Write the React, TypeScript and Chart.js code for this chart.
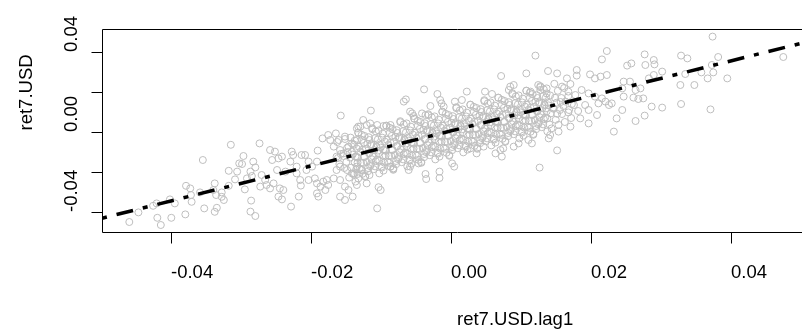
import React, { useEffect, useRef } from "react";
import { Chart, registerables } from "chart.js";

Chart.register(...registerables);

// ---- data ----
const usdLag1: number[] = [
  // left tail
  -0.0459,-0.0446,-0.0425,-0.0420,-0.0419,-0.0414,-0.0401,-0.0399,-0.0394,-0.0379,
  -0.0378,-0.0372,-0.0371,-0.0370,-0.0358,-0.0354,-0.0352,-0.0339,-0.0337,-0.0337,
  -0.0335,-0.0334,-0.0327,-0.0327,-0.0324,-0.0317,-0.0317,-0.0314,-0.0308,-0.0302,
  // lower-left body
  -0.0305,-0.0298,-0.0296,-0.0294,-0.0291,-0.0286,-0.0286,-0.0285,-0.0284,-0.0282,
  -0.0279,-0.0279,-0.0273,-0.0272,-0.0270,-0.0265,-0.0263,-0.0258,-0.0258,-0.0255,
  -0.0253,-0.0251,-0.0248,-0.0246,-0.0246,-0.0244,-0.0241,-0.0241,-0.0239,-0.0236,
  -0.0229,-0.0228,-0.0227,-0.0225,-0.0220,-0.0220,-0.0217,-0.0215,-0.0214,-0.0213,
  -0.0208,-0.0206,-0.0203,-0.0203,-0.0198,-0.0194,-0.0191,-0.0191,-0.0191,-0.0190,
  -0.0189,-0.0186,-0.0183,-0.0182,-0.0179,-0.0177,-0.0175,-0.0175,-0.0172,-0.0167,
  -0.0167,-0.0164,-0.0163,-0.0160,-0.0158,-0.0158,-0.0158,-0.0157,-0.0153,-0.0151,
  -0.0151,-0.0151,-0.0148,-0.0146,-0.0146,-0.0141,-0.0141,-0.0140,-0.0134,-0.0134,
  -0.0132,
  // upper outliers left of zero
  -0.0125,-0.0120,-0.0129,-0.0134,-0.0115,-0.0114,-0.0105,-0.0096,-0.0086,-0.0067,
  -0.0064,-0.0055,-0.0058,-0.0053,-0.0041,-0.0036,-0.0038,-0.0029,-0.0019,-0.0015,
  -0.0013,-0.0010,
  // lower outliers left of zero
  -0.0136,-0.0134,-0.0132,-0.0133,-0.0127,-0.0120,-0.0116,-0.0105,-0.0100,-0.0103,
  -0.0086,-0.0082,-0.0058,-0.0060,-0.0046,-0.0036,-0.0035,-0.0016,-0.0016,
  // outliers right of zero
  0.0121,0.0072,0.0108,0.0139,0.0152,0.0023,0.0049,0.0059,0.0085,0.0090,
  0.0083,0.0114,0.0125,0.0128,0.0137,0.0006,0.0016,
  0.0127,0.0005,0.0002,0.0073,0.0064,0.0071,0.0075,0.0116,0.0111,
  0.0152,0.0140,0.0142,0.0037,0.0028,0.0047,0.0090,0.0097,
  // upper-right body
  0.0223,0.0216,0.0277,0.0290,0.0329,0.0180,0.0180,0.0166,0.0199,0.0206,
  0.0214,0.0223,0.0252,0.0258,0.0278,0.0291,0.0302,0.0290,0.0283,0.0247,
  0.0256,0.0245,0.0264,0.0271,0.0275,0.0268,0.0261,0.0247,0.0287,0.0302,
  0.0245,0.0237,0.0264,0.0277,0.0233,0.0329,0.0226,0.0230,0.0221,0.0209,
  0.0197,0.0171,0.0154,0.0185,0.0159,0.0168,0.0178,0.0187,0.0197,0.0206,
  0.0216,0.0164,0.0176,0.0192,0.0211,0.0156,0.0168,0.0182,0.0197,
  // right tail
  0.0374,0.0338,0.0382,0.0475,0.0373,0.0375,0.0367,0.0395,0.0358,0.0335,
  0.0328,0.0348,0.0371,
  // dense core
  -0.0162,-0.0158,-0.0161,-0.0159,-0.0163,-0.0157,
  -0.0151,-0.0148,-0.0153,-0.0149,-0.0152,-0.0147,
  -0.0143,-0.0138,-0.0141,-0.0144,-0.0137,-0.0142,-0.0139,-0.0140,-0.0145,
  -0.0132,-0.0127,-0.0131,-0.0129,-0.0133,-0.0128,-0.0130,-0.0126,-0.0134,
  -0.0123,-0.0119,-0.0121,-0.0117,-0.0124,-0.0120,-0.0118,-0.0122,-0.0116,
  -0.0112,-0.0108,-0.0113,-0.0109,-0.0111,-0.0107,-0.0114,-0.0110,-0.0106,
  -0.0103,-0.0098,-0.0101,-0.0104,-0.0097,-0.0102,-0.0099,-0.0100,-0.0096,
  -0.0092,-0.0087,-0.0091,-0.0089,-0.0093,-0.0088,-0.0090,-0.0086,-0.0094,
  -0.0083,-0.0079,-0.0081,-0.0077,-0.0084,-0.0080,-0.0078,-0.0082,-0.0076,
  -0.0072,-0.0068,-0.0073,-0.0069,-0.0071,-0.0067,-0.0074,-0.0070,-0.0066,
  -0.0063,-0.0058,-0.0061,-0.0064,-0.0057,-0.0062,-0.0059,-0.0060,-0.0056,
  -0.0052,-0.0047,-0.0051,-0.0049,-0.0053,-0.0048,-0.0050,-0.0046,-0.0054,
  -0.0043,-0.0039,-0.0041,-0.0037,-0.0044,-0.0040,-0.0038,-0.0042,-0.0036,
  -0.0032,-0.0028,-0.0033,-0.0029,-0.0031,-0.0027,-0.0034,-0.0030,-0.0026,
  -0.0023,-0.0018,-0.0021,-0.0024,-0.0017,-0.0022,-0.0019,-0.0020,-0.0016,
  -0.0012,-0.0007,-0.0011,-0.0009,-0.0013,-0.0008,-0.0010,-0.0006,-0.0014,
  -0.0003,0.0001,-0.0001,0.0003,-0.0004,0.0000,0.0002,-0.0002,0.0004,
  0.0008,0.0012,0.0007,0.0011,0.0009,0.0013,0.0006,0.0010,0.0014,
  0.0017,0.0022,0.0019,0.0016,0.0023,0.0018,0.0021,0.0020,0.0024,
  0.0028,0.0033,0.0029,0.0031,0.0027,0.0032,0.0030,0.0034,0.0026,
  0.0037,0.0041,0.0039,0.0043,0.0036,0.0040,0.0042,0.0038,0.0044,
  0.0048,0.0052,0.0047,0.0051,0.0049,0.0053,0.0046,0.0050,0.0054,
  0.0057,0.0062,0.0059,0.0056,0.0063,0.0058,0.0061,0.0060,0.0064,
  0.0068,0.0073,0.0069,0.0071,0.0067,0.0072,0.0070,0.0074,0.0066,
  0.0077,0.0081,0.0079,0.0083,0.0076,0.0080,0.0082,0.0078,0.0084,
  0.0088,0.0092,0.0087,0.0091,0.0089,0.0093,0.0086,0.0090,0.0094,
  0.0097,0.0102,0.0099,0.0096,0.0103,0.0098,0.0101,0.0100,0.0104,
  0.0108,0.0113,0.0109,0.0111,0.0107,0.0112,0.0110,0.0114,0.0106,
  0.0117,0.0121,0.0119,0.0123,0.0116,0.0120,0.0122,0.0118,0.0124,
  0.0128,0.0132,0.0127,0.0131,0.0129,0.0133,0.0126,0.0130,0.0134,
  0.0137,0.0142,0.0139,0.0136,0.0143,0.0138,0.0141,0.0140,0.0144,
  0.0148,0.0153,0.0149,0.0151,0.0147,0.0152,0.0150,0.0154,0.0146,
  0.0162,0.0158,0.0161,0.0159,0.0163,0.0157,
  0.0171,0.0168,0.0173,0.0169,0.0172,
  // dense core, second layer
  -0.0137,-0.0134,-0.0136,-0.0133,-0.0135,-0.0138,-0.0132,
  -0.0127,-0.0124,-0.0126,-0.0123,-0.0125,-0.0128,-0.0122,
  -0.0117,-0.0114,-0.0116,-0.0113,-0.0115,-0.0118,-0.0112,
  -0.0107,-0.0104,-0.0106,-0.0103,-0.0105,-0.0108,-0.0102,
  -0.0097,-0.0094,-0.0096,-0.0093,-0.0095,-0.0098,-0.0092,
  -0.0087,-0.0084,-0.0086,-0.0083,-0.0085,-0.0088,-0.0082,
  -0.0077,-0.0074,-0.0076,-0.0073,-0.0075,-0.0078,-0.0072,
  -0.0067,-0.0064,-0.0066,-0.0063,-0.0065,-0.0068,-0.0062,
  -0.0057,-0.0054,-0.0056,-0.0053,-0.0055,-0.0058,-0.0052,
  -0.0047,-0.0044,-0.0046,-0.0043,-0.0045,-0.0048,-0.0042,
  -0.0037,-0.0034,-0.0036,-0.0033,-0.0035,-0.0038,-0.0032,
  -0.0027,-0.0024,-0.0026,-0.0023,-0.0025,-0.0028,-0.0022,
  -0.0017,-0.0014,-0.0016,-0.0013,-0.0015,-0.0018,-0.0012,
  -0.0007,-0.0004,-0.0006,-0.0003,-0.0005,-0.0008,-0.0002,
  0.0003,0.0006,0.0004,0.0007,0.0005,0.0002,0.0008,
  0.0013,0.0016,0.0014,0.0017,0.0015,0.0012,0.0018,
  0.0023,0.0026,0.0024,0.0027,0.0025,0.0022,0.0028,
  0.0033,0.0036,0.0034,0.0037,0.0035,0.0032,0.0038,
  0.0043,0.0046,0.0044,0.0047,0.0045,0.0042,0.0048,
  0.0053,0.0056,0.0054,0.0057,0.0055,0.0052,0.0058,
  0.0063,0.0066,0.0064,0.0067,0.0065,0.0062,0.0068,
  0.0073,0.0076,0.0074,0.0077,0.0075,0.0072,0.0078,
  0.0083,0.0086,0.0084,0.0087,0.0085,0.0082,0.0088,
  0.0093,0.0096,0.0094,0.0097,0.0095,0.0092,0.0098,
  0.0103,0.0106,0.0104,0.0107,0.0105,0.0102,0.0108,
  0.0113,0.0116,0.0114,0.0117,0.0115,0.0112,0.0118,
  0.0123,0.0126,0.0124,0.0127,0.0125,0.0122,0.0128,
  0.0133,0.0136,0.0134,0.0137,0.0135,0.0132,0.0138,
];

const usd: number[] = [
  // left tail
  -0.0450,-0.0402,-0.0369,-0.0357,-0.0429,-0.0465,-0.0337,-0.0429,-0.0357,-0.0412,
  -0.0269,-0.0282,-0.0315,-0.0349,-0.0302,-0.0140,-0.0382,-0.0290,-0.0257,-0.0399,
  -0.0315,-0.0379,-0.0324,-0.0302,-0.0340,-0.0194,-0.0269,-0.0064,-0.0237,-0.0157,
  // lower-left body
  -0.0198,-0.0160,-0.0120,-0.0287,-0.0232,-0.0198,-0.0398,-0.0343,-0.0220,-0.0148,
  -0.0177,-0.0420,-0.0057,-0.0273,-0.0215,-0.0240,-0.0265,-0.0090,-0.0282,-0.0140,
  -0.0257,-0.0098,-0.0190,-0.0132,-0.0323,-0.0282,-0.0123,-0.0337,-0.0290,-0.0198,
  -0.0148,-0.0373,-0.0098,-0.0115,-0.0173,-0.0207,-0.0323,-0.0240,-0.0268,-0.0115,
  -0.0115,-0.0190,-0.0148,-0.0240,-0.0173,-0.0232,-0.0148,-0.0257,-0.0307,-0.0093,
  -0.0323,-0.0273,-0.0032,-0.0248,-0.0290,-0.0240,-0.0015,-0.0265,-0.0040,-0.0073,
  -0.0232,-0.0007,-0.0123,-0.0040,-0.0173,-0.0240,-0.0323,0.0082,-0.0107,-0.0023,
  -0.0273,-0.0340,-0.0190,-0.0073,-0.0290,-0.0057,-0.0207,-0.0323,-0.0040,-0.0173,
  0.0027,
  // upper outliers left of zero
  0.0060,0.0035,0.0027,0.0018,0.0043,0.0107,0.0035,0.0030,0.0035,0.0152,
  0.0163,0.0093,0.0102,0.0080,0.0093,0.0085,0.0213,0.0130,0.0190,0.0160,
  0.0143,0.0127,
  // lower outliers left of zero
  -0.0248,-0.0265,-0.0232,-0.0210,-0.0190,-0.0257,-0.0215,-0.0382,-0.0290,-0.0276,
  -0.0173,-0.0182,-0.0173,-0.0190,-0.0157,-0.0210,-0.0235,-0.0198,-0.0230,
  // outliers right of zero
  0.0382,0.0280,0.0293,0.0305,0.0293,0.0202,0.0202,0.0190,0.0227,0.0235,
  0.0210,0.0202,0.0235,0.0210,0.0193,0.0152,0.0160,
  -0.0178,-0.0173,-0.0157,-0.0123,-0.0107,-0.0090,-0.0082,-0.0057,-0.0040,
  -0.0092,-0.0032,-0.0015,-0.0107,-0.0082,-0.0073,-0.0073,-0.0057,
  // upper-right body
  0.0405,0.0363,0.0388,0.0360,0.0382,0.0310,0.0282,0.0268,0.0288,0.0268,
  0.0277,0.0285,0.0332,0.0343,0.0335,0.0338,0.0302,0.0285,0.0268,0.0252,
  0.0252,0.0218,0.0210,0.0218,0.0168,0.0165,0.0172,0.0177,0.0127,0.0122,
  0.0110,0.0068,0.0055,0.0082,0.0002,0.0140,0.0135,0.0143,0.0152,0.0085,
  0.0043,0.0027,0.0002,0.0068,0.0227,0.0202,0.0185,0.0210,0.0193,0.0177,
  0.0168,0.0152,0.0135,0.0135,0.0143,0.0110,0.0098,0.0105,0.0110,
  // right tail
  0.0477,0.0368,0.0375,0.0375,0.0335,0.0298,0.0268,0.0268,0.0298,0.0290,
  0.0235,0.0235,0.0113,
  // dense core
  -0.0050,-0.0090,-0.0130,-0.0160,-0.0190,-0.0110,
  -0.0035,-0.0080,-0.0120,-0.0150,-0.0180,-0.0100,
  -0.0028,-0.0063,-0.0098,-0.0128,-0.0153,-0.0178,-0.0208,-0.0113,-0.0228,
  -0.0004,-0.0039,-0.0074,-0.0099,-0.0129,-0.0154,-0.0184,-0.0209,-0.0124,
  -0.0020,-0.0060,-0.0085,-0.0105,-0.0125,-0.0150,-0.0180,-0.0220,-0.0040,
  0.0019,-0.0031,-0.0061,-0.0091,-0.0121,-0.0146,-0.0161,-0.0186,-0.0076,
  0.0008,-0.0028,-0.0063,-0.0093,-0.0118,-0.0143,-0.0173,-0.0078,-0.0193,
  0.0031,-0.0004,-0.0039,-0.0064,-0.0094,-0.0119,-0.0149,-0.0174,-0.0089,
  0.0015,-0.0025,-0.0050,-0.0070,-0.0090,-0.0115,-0.0145,-0.0185,-0.0005,
  0.0054,0.0004,-0.0026,-0.0056,-0.0086,-0.0111,-0.0126,-0.0151,-0.0041,
  0.0043,0.0008,-0.0028,-0.0058,-0.0083,-0.0108,-0.0138,-0.0043,-0.0158,
  0.0066,0.0031,-0.0004,-0.0029,-0.0059,-0.0084,-0.0114,-0.0139,-0.0054,
  0.0050,0.0010,-0.0015,-0.0035,-0.0055,-0.0080,-0.0110,-0.0150,0.0030,
  0.0089,0.0039,0.0009,-0.0021,-0.0051,-0.0076,-0.0091,-0.0116,-0.0006,
  0.0078,0.0043,0.0008,-0.0023,-0.0048,-0.0073,-0.0103,-0.0008,-0.0123,
  0.0101,0.0066,0.0031,0.0006,-0.0024,-0.0049,-0.0079,-0.0104,-0.0019,
  0.0085,0.0045,0.0020,0.0000,-0.0020,-0.0045,-0.0075,-0.0115,0.0065,
  0.0124,0.0074,0.0044,0.0014,-0.0016,-0.0041,-0.0056,-0.0081,0.0029,
  0.0113,0.0078,0.0043,0.0013,-0.0013,-0.0038,-0.0068,0.0028,-0.0088,
  0.0136,0.0101,0.0066,0.0041,0.0011,-0.0014,-0.0044,-0.0069,0.0016,
  0.0120,0.0080,0.0055,0.0035,0.0015,-0.0010,-0.0040,-0.0080,0.0100,
  0.0159,0.0109,0.0079,0.0049,0.0019,-0.0006,-0.0021,-0.0046,0.0064,
  0.0148,0.0113,0.0078,0.0048,0.0023,-0.0003,-0.0033,0.0063,-0.0053,
  0.0171,0.0136,0.0101,0.0076,0.0046,0.0021,-0.0009,-0.0034,0.0051,
  0.0155,0.0115,0.0090,0.0070,0.0050,0.0025,-0.0005,-0.0045,0.0135,
  0.0194,0.0144,0.0114,0.0084,0.0054,0.0029,0.0014,-0.0011,0.0099,
  0.0183,0.0148,0.0113,0.0083,0.0058,0.0033,0.0003,0.0098,-0.0018,
  0.0206,0.0171,0.0136,0.0111,0.0081,0.0056,0.0026,0.0001,0.0086,
  0.0190,0.0150,0.0125,0.0105,0.0085,0.0060,0.0030,-0.0010,0.0170,
  0.0229,0.0179,0.0149,0.0119,0.0089,0.0064,0.0049,0.0024,0.0134,
  0.0218,0.0183,0.0148,0.0118,0.0093,0.0068,0.0038,0.0133,0.0018,
  0.0241,0.0206,0.0171,0.0146,0.0116,0.0091,0.0061,0.0036,0.0121,
  0.0220,0.0170,0.0130,0.0090,0.0050,0.0150,
  0.0240,0.0180,0.0140,0.0110,0.0070,
  // dense core, second layer
  -0.0043,-0.0083,-0.0123,-0.0153,-0.0188,-0.0213,-0.0003,
  -0.0014,-0.0054,-0.0089,-0.0124,-0.0154,-0.0189,-0.0224,
  -0.0026,-0.0066,-0.0106,-0.0136,-0.0171,-0.0196,0.0014,
  0.0003,-0.0037,-0.0072,-0.0107,-0.0137,-0.0172,-0.0207,
  -0.0008,-0.0048,-0.0088,-0.0118,-0.0153,-0.0178,0.0032,
  0.0021,-0.0019,-0.0054,-0.0089,-0.0119,-0.0154,-0.0189,
  0.0009,-0.0031,-0.0071,-0.0101,-0.0136,-0.0161,0.0049,
  0.0038,-0.0002,-0.0037,-0.0072,-0.0102,-0.0137,-0.0172,
  0.0027,-0.0013,-0.0053,-0.0083,-0.0118,-0.0143,0.0067,
  0.0056,0.0016,-0.0019,-0.0054,-0.0084,-0.0119,-0.0154,
  0.0044,0.0004,-0.0036,-0.0066,-0.0101,-0.0126,0.0084,
  0.0073,0.0033,-0.0002,-0.0037,-0.0067,-0.0102,-0.0137,
  0.0062,0.0022,-0.0018,-0.0048,-0.0083,-0.0108,0.0102,
  0.0091,0.0051,0.0016,-0.0019,-0.0049,-0.0084,-0.0119,
  0.0079,0.0039,-0.0001,-0.0031,-0.0066,-0.0091,0.0119,
  0.0108,0.0068,0.0033,-0.0002,-0.0032,-0.0067,-0.0102,
  0.0097,0.0057,0.0017,-0.0013,-0.0048,-0.0073,0.0137,
  0.0126,0.0086,0.0051,0.0016,-0.0014,-0.0049,-0.0084,
  0.0114,0.0074,0.0034,0.0004,-0.0031,-0.0056,0.0154,
  0.0143,0.0103,0.0068,0.0033,0.0003,-0.0032,-0.0067,
  0.0132,0.0092,0.0052,0.0022,-0.0013,-0.0038,0.0172,
  0.0161,0.0121,0.0086,0.0051,0.0021,-0.0014,-0.0049,
  0.0149,0.0109,0.0069,0.0039,0.0004,-0.0021,0.0189,
  0.0178,0.0138,0.0103,0.0068,0.0038,0.0003,-0.0032,
  0.0167,0.0127,0.0087,0.0057,0.0022,-0.0003,0.0207,
  0.0196,0.0156,0.0121,0.0086,0.0056,0.0021,-0.0014,
  0.0184,0.0144,0.0104,0.0074,0.0039,0.0014,0.0224,
  0.0213,0.0173,0.0138,0.0103,0.0073,0.0038,0.0003,
];

// fitted line (abline) end points, read at the plot limits
const fitX: number[] = [-0.0498, 0.0516];
const fitY: number[] = [-0.0431, 0.0457];

const xLimits: number[] = [-0.0498, 0.0516];
const yLimits: number[] = [-0.0500, 0.0515];

const xTickValues: number[] = [-0.04, -0.02, 0, 0.02, 0.04];
const xTickLabels: string[] = ["-0.04", "-0.02", "0.00", "0.02", "0.04"];
const yTickValues: number[] = [-0.04, -0.02, 0, 0.02, 0.04];
const yTickLabels: string[] = ["-0.04", "", "0.00", "", "0.04"];

const xTitle = "ret7.USD.lag1";
const yTitle = "ret7.USD";

const FONT = '18.5px "Liberation Sans", Arial, Helvetica, sans-serif';

const rAxesPlugin = {
  id: "rAxes",
  afterDraw(chart: any) {
    const ctx: CanvasRenderingContext2D = chart.ctx;
    const a = chart.chartArea;
    const xs = chart.scales.x;
    const ys = chart.scales.y;
    const L = Math.round(a.left) + 0.5;
    const T = Math.round(a.top) + 0.5;
    const B = Math.round(a.bottom) + 0.5;
    const R = Math.round(a.right) + 0.5;
    ctx.save();
    ctx.strokeStyle = "#000";
    ctx.lineWidth = 1;
    ctx.beginPath();
    ctx.rect(L, T, R - L, B - T);
    ctx.stroke();

    ctx.font = FONT;
    ctx.fillStyle = "#000";
    ctx.textAlign = "left";
    ctx.textBaseline = "alphabetic";

    xTickValues.forEach((v, i) => {
      const px = Math.round(xs.getPixelForValue(v)) + 0.5;
      ctx.beginPath();
      ctx.moveTo(px, B);
      ctx.lineTo(px, B + 11);
      ctx.stroke();
      ctx.fillText(xTickLabels[i], px - 0.5, 278);
    });

    yTickValues.forEach((v, i) => {
      const py = Math.round(ys.getPixelForValue(v)) + 0.5;
      ctx.beginPath();
      ctx.moveTo(L - 11, py);
      ctx.lineTo(L, py);
      ctx.stroke();
      const lab = yTickLabels[i];
      if (lab) {
        ctx.save();
        ctx.translate(77, py - 0.5);
        ctx.rotate(-Math.PI / 2);
        ctx.fillText(lab, 0, 0);
        ctx.restore();
      }
    });

    ctx.fillText(xTitle, (a.left + a.right) / 2, 325);

    ctx.save();
    ctx.translate(32, (a.top + a.bottom) / 2);
    ctx.rotate(-Math.PI / 2);
    ctx.fillText(yTitle, 0, 0);
    ctx.restore();

    ctx.restore();
  },
};

export default function App() {
  const canvasRef = useRef<HTMLCanvasElement | null>(null);

  useEffect(() => {
    const canvas = canvasRef.current;
    if (!canvas) return;
    const points = usdLag1.map((x, i) => ({ x, y: usd[i] }));
    const fit = fitX.map((x, i) => ({ x, y: fitY[i] }));
    const chart = new Chart(canvas, {
      type: "scatter",
      data: {
        datasets: [
          {
            type: "line",
            data: fit,
            borderColor: "#000",
            borderWidth: 3.5,
            borderDash: [5, 10, 17, 10],
            pointRadius: 0,
            fill: false,
            order: 0,
          } as any,
          {
            type: "scatter",
            data: points,
            pointStyle: "circle",
            pointRadius: 3.5,
            pointBorderWidth: 1,
            pointBorderColor: "#bebebe",
            pointBackgroundColor: "rgba(0,0,0,0)",
            borderColor: "#bebebe",
            backgroundColor: "rgba(0,0,0,0)",
            order: 1,
          } as any,
        ],
      },
      options: {
        responsive: false,
        maintainAspectRatio: false,
        animation: false,
        devicePixelRatio: 1,
        layout: { padding: { left: 102, top: 29, right: 8, bottom: 97 } },
        scales: {
          x: { type: "linear", min: xLimits[0], max: xLimits[1], display: false },
          y: { type: "linear", min: yLimits[0], max: yLimits[1], display: false },
        },
        plugins: {
          legend: { display: false },
          tooltip: { enabled: false },
        },
        events: [],
      } as any,
      plugins: [rAxesPlugin],
    });
    return () => chart.destroy();
  }, []);

  return (
    <div
      style={{
        position: "absolute",
        left: 0,
        top: 0,
        width: 802,
        height: 329,
        overflow: "hidden",
        background: "#fff",
      }}
    >
      <canvas
        ref={canvasRef}
        width={820}
        height={329}
        style={{ display: "block", width: 820, height: 329 }}
      />
    </div>
  );
}
